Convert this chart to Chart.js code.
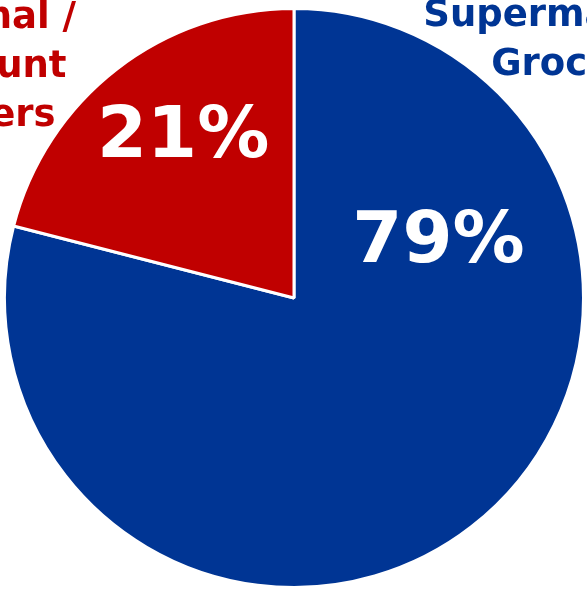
<!DOCTYPE html>
<html>
<head>
<meta charset="utf-8">
<script src="https://cdn.jsdelivr.net/npm/chart.js@4.4.0/dist/chart.umd.min.js"></script>
<style>
  html, body { margin: 0; padding: 0; background: #ffffff; overflow: hidden; }
  #wrap { width: 587px; height: 591px; position: relative; }
</style>
</head>
<body>
<div id="wrap"><canvas id="pie" width="587" height="591"></canvas></div>
<script>
// Channel share of grocery sales
const categories = ['Supermarket / Grocers', 'National / Discount Grocers'];
const categoryLines = [['Supermarket /', 'Grocers'], ['National /', 'Discount', 'Grocers']];
const shares = [79, 21];
const sliceColors = ['#003594', '#C00000'];

// Label placement, as fractions of the pie radius from its centre
const valueLabelPos = [[0.499, -0.124], [-0.383, -0.487]];
const nameLabelPos = [[0.960, -0.940], [-1.102, -0.933]];

const labelPlugin = {
  id: 'sliceLabels',
  afterDatasetsDraw(chart) {
    const ctx = chart.ctx;
    const meta = chart.getDatasetMeta(0);
    const values = chart.data.datasets[0].data;
    ctx.save();
    meta.data.forEach((arc, i) => {
      const r = arc.outerRadius;
      // percentage inside the slice
      ctx.fillStyle = '#ffffff';
      ctx.font = 'bold 72px "DejaVu Sans"';
      ctx.textAlign = 'center';
      ctx.textBaseline = 'alphabetic';
      ctx.fillText(values[i] + '%',
        arc.x + valueLabelPos[i][0] * r,
        arc.y + valueLabelPos[i][1] * r);
      // category name outside the pie
      ctx.fillStyle = sliceColors[i];
      ctx.font = 'bold 37px "DejaVu Sans"';
      const cx = arc.x + nameLabelPos[i][0] * r;
      const cy = arc.y + nameLabelPos[i][1] * r;
      categoryLines[i].forEach((line, k) => {
        ctx.fillText(line, cx, cy + k * 49);
      });
    });
    ctx.restore();
  }
};

new Chart(document.getElementById('pie'), {
  type: 'pie',
  data: {
    labels: categories,
    datasets: [{
      data: shares,
      backgroundColor: sliceColors,
      borderColor: '#ffffff',
      borderWidth: 3
    }]
  },
  options: {
    responsive: false,
    animation: false,
    layout: { padding: { left: 3, right: 2, top: 7, bottom: 2 } },
    plugins: {
      legend: { display: false },
      tooltip: { enabled: false }
    }
  },
  plugins: [labelPlugin]
});
</script>
</body>
</html>
